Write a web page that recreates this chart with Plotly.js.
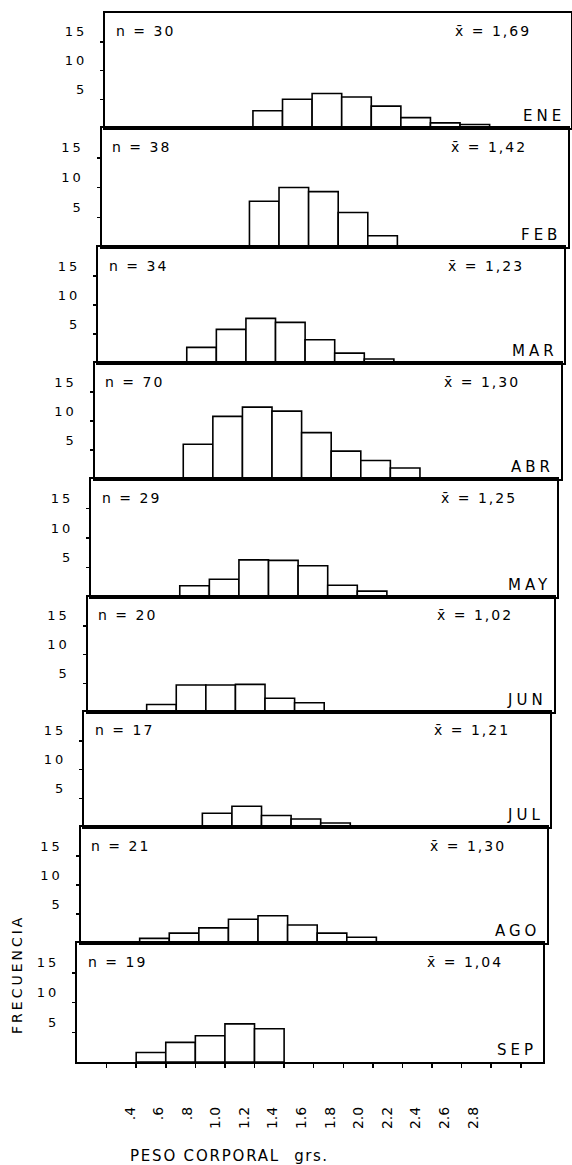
<!DOCTYPE html>
<html>
<head>
<meta charset="utf-8">
<script src="https://cdn.plot.ly/plotly-3.0.1.min.js"></script>
<style>html,body{margin:0;padding:0;background:#fff;}</style>
</head>
<body>
<div id="chart" style="width:572px;height:1165px;"></div>
<script>
// ---------------- DATA ----------------
const months = ['ENE', 'FEB', 'MAR', 'ABR', 'MAY', 'JUN', 'JUL', 'AGO', 'SEP'];
const nValues = [30, 38, 34, 70, 29, 20, 17, 21, 19];
const meanValues = ['1,69', '1,42', '1,23', '1,30', '1,25', '1,02', '1,21', '1,30', '1,04'];
// class midpoints of 0.2 g weight classes (0.4-0.6 ... 2.4-2.6)
const binCenters = [0.5, 0.7, 0.9, 1.1, 1.3, 1.5, 1.7, 1.9, 2.1, 2.3, 2.5];
const freqENE = [null, null, null, 3, 5, 6, 5.4, 3.8, 1.8, 0.9, 0.6];
const freqFEB = [null, null, null, 7.7, 10, 9.3, 5.8, 1.9, null, null, null];
const freqMAR = [null, 2.7, 5.8, 7.7, 7, 4, 1.7, 0.7, null, null, null];
const freqABR = [null, 6, 10.8, 12.4, 11.7, 8, 4.8, 3.2, 1.9, null, null];
const freqMAY = [null, 1.9, 3, 6.3, 6.2, 5.3, 2, 1, null, null, null];
const freqJUN = [1.3, 4.7, 4.7, 4.8, 2.4, 1.6, null, null, null, null, null];
const freqJUL = [null, null, 2.4, 3.6, 2, 1.4, 0.7, null, null, null, null];
const freqAGO = [0.8, 1.7, 2.6, 4.1, 4.7, 3.1, 1.7, 1, null, null, null];
const freqSEP = [1.6, 3.3, 4.4, 6.4, 5.6, null, null, null, null, null, null];
const xTickMarks = [0.2, 0.4, 0.6, 0.8, 1.0, 1.2, 1.4, 1.6, 1.8, 2.0, 2.2, 2.4, 2.6, 2.8, 3.0];
const xTickValues = [0.4, 0.6, 0.8, 1.0, 1.2, 1.4, 1.6, 1.8, 2.0, 2.2, 2.4, 2.6, 2.8];
const xTickLabels = ['.4', '.6', '.8', '1.0', '1.2', '1.4', '1.6', '1.8', '2.0', '2.2', '2.4', '2.6', '2.8'];
const yTickValues = [5, 10, 15];
const yTickLabels = ['5', '10', '15'];
const xTitle = 'PESO CORPORAL';
const xUnit = 'grs.';
const yTitle = 'FRECUENCIA';

const freqs = [freqENE, freqFEB, freqMAR, freqABR, freqMAY, freqJUN, freqJUL, freqAGO, freqSEP];

// ---------------- LAYOUT ----------------
const W = 572, H = 1165;
const edgesPx = [13, 128, 247, 363, 479, 597, 712, 827, 943, 1062]; // panel borders (px from top)
const XMAX = 3.15, YMAX = 20;
const panelWidthPx = 466;
const leftPx = k => 105 - 3.5 * k;   // scanned original is slightly rotated
const FONT = 'DejaVu Sans';
const sp = (t, s) => '<span style="letter-spacing:' + s + 'px">' + t + '</span>';

const layout = {
  width: W, height: H,
  margin: {l: 0, r: 0, t: 0, b: 0},
  paper_bgcolor: '#fff', plot_bgcolor: 'rgba(0,0,0,0)',
  showlegend: false,
  font: {family: FONT, size: 14, color: '#000'},
  annotations: []
};
const data = [];

months.forEach((m, k) => {
  const xid = k === 0 ? 'x' : 'x' + (k + 1);
  const yid = k === 0 ? 'y' : 'y' + (k + 1);
  const l = leftPx(k);
  const last = k === months.length - 1;
  layout[k === 0 ? 'xaxis' : 'xaxis' + (k + 1)] = {
    domain: [l / W, (l + panelWidthPx) / W],
    range: [0, XMAX], anchor: yid,
    showline: true, linecolor: '#000', linewidth: 2, mirror: true,
    showgrid: false, zeroline: false, fixedrange: true,
    ticks: last ? 'outside' : '', tickvals: last ? xTickMarks : [],
    ticklen: 4, tickwidth: 1.5, tickcolor: '#000',
    showticklabels: false
  };
  layout[k === 0 ? 'yaxis' : 'yaxis' + (k + 1)] = {
    domain: [1 - edgesPx[k + 1] / H, 1 - edgesPx[k] / H],
    range: [0, YMAX], anchor: xid,
    showline: true, linecolor: '#000', linewidth: 2, mirror: true,
    showgrid: false, zeroline: false, fixedrange: true,
    ticks: 'outside', ticklen: 3, tickwidth: 1.5, tickcolor: '#000',
    tickvals: yTickValues, ticktext: yTickLabels.map(t => sp(t, 3)),
    tickfont: {family: FONT, size: 13, color: '#000'},
    ticklabelstandoff: 10, ticklabelshift: -10
  };
  data.push({
    type: 'bar', x: binCenters, y: freqs[k], width: 0.2,
    xaxis: xid, yaxis: yid,
    marker: {color: '#fff', line: {color: '#000', width: 1.6}},
    hoverinfo: 'skip'
  });
  layout.annotations.push(
    {xref: xid, yref: yid, x: 0.06, y: 16.8, xanchor: 'left', yanchor: 'middle', showarrow: false,
     text: sp('n = ' + nValues[k], 2)},
    {xref: xid, yref: yid, x: 2.35, y: 16.8, xanchor: 'left', yanchor: 'middle', showarrow: false,
     text: sp('x\u0304 = ' + meanValues[k], 2)},
    {xref: xid, yref: yid, x: 3.12, y: 0.2, xanchor: 'right', yanchor: 'bottom', showarrow: false,
     font: {family: FONT, size: 15, color: '#000'},
     text: sp(m, 4)}
  );
});

// tick label axis (hand-lettered labels are spaced slightly tighter than the ticks)
const lblUnit = 142.9, lbl0 = 130 - 0.4 * lblUnit;
layout.xaxis10 = {
  domain: [lbl0 / W, (lbl0 + XMAX * lblUnit) / W],
  range: [0, XMAX], anchor: 'y9',
  showline: false, showgrid: false, zeroline: false, ticks: '', fixedrange: true,
  tickvals: xTickValues, ticktext: xTickLabels, tickangle: -90,
  tickfont: {family: FONT, size: 14, color: '#000'},
  ticklabelstandoff: 41
};
data.push({type: 'scatter', x: [], y: [], xaxis: 'x10', yaxis: 'y9', hoverinfo: 'skip'});

layout.annotations.push(
  {xref: 'paper', yref: 'paper', x: 128 / W, y: 1 - 1156 / H, xanchor: 'left', yanchor: 'middle',
   showarrow: false, font: {family: FONT, size: 15, color: '#000'},
   text: sp(xTitle, 1.8) + '\u00a0\u00a0\u00a0' + sp(xUnit, 1.5)},
  {xref: 'paper', yref: 'paper', x: 17 / W, y: 1 - 975 / H, xanchor: 'center', yanchor: 'middle',
   showarrow: false, textangle: -90, font: {family: FONT, size: 14, color: '#000'},
   text: sp(yTitle, 3)}
);

Plotly.newPlot('chart', data, layout, {staticPlot: true, displayModeBar: false});
</script>
</body>
</html>
